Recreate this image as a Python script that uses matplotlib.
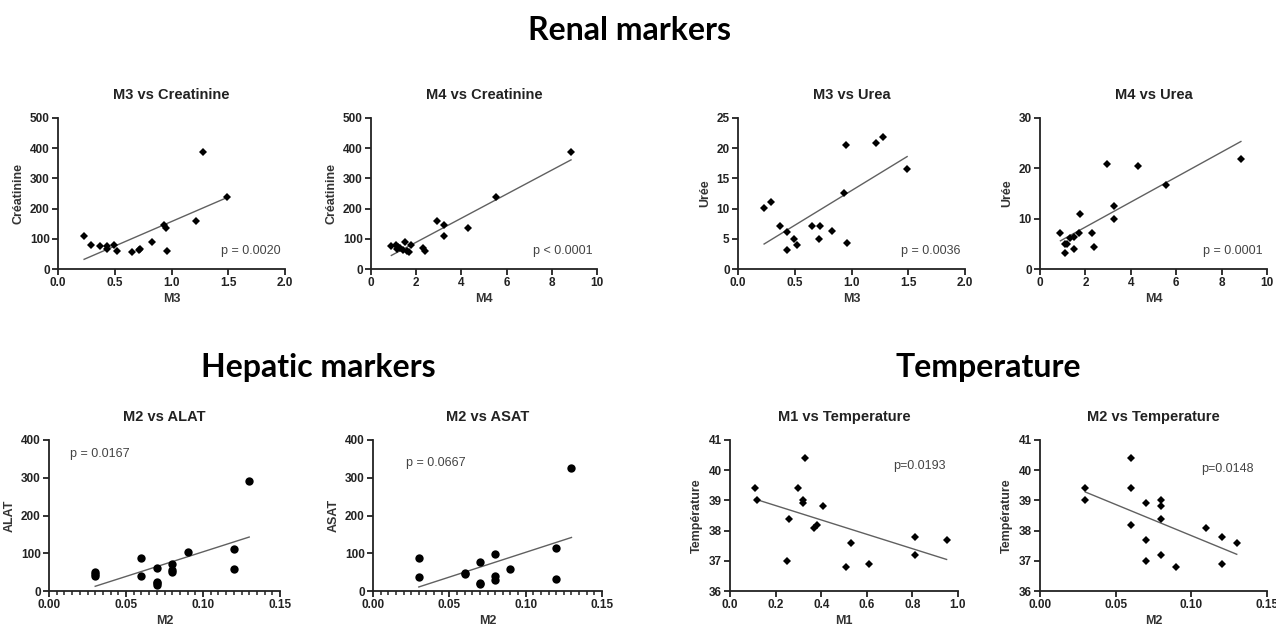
import numpy as np
import matplotlib
matplotlib.use("Agg")
import matplotlib.pyplot as plt
from matplotlib.ticker import MultipleLocator, FuncFormatter

# ---------------- data ----------------
m3 = [0.23, 0.29, 0.37, 0.43, 0.43, 0.49, 0.52, 0.65, 0.71, 0.72, 0.83, 0.93, 0.95, 0.96, 1.22, 1.28, 1.49]
creat_m3 = [110, 80, 75, 75, 65, 78, 60, 55, 62, 65, 90, 145, 135, 60, 160, 388, 237]
urea_m3 = [10.1, 11.1, 7.2, 6.1, 3.2, 5.0, 4.0, 7.2, 4.9, 7.2, 6.3, 12.6, 20.5, 4.3, 20.9, 21.8, 16.6]

m4_cr = [0.9, 1.1, 1.15, 1.2, 1.3, 1.4, 1.5, 1.6, 1.7, 1.75, 2.3, 2.4, 2.9, 3.25, 3.25, 4.3, 5.55, 8.85]
creat_m4 = [75, 78, 65, 72, 70, 62, 90, 60, 55, 80, 68, 60, 160, 145, 110, 135, 237, 388]

m4_ur = [0.9, 1.1, 1.1, 1.2, 1.3, 1.5, 1.5, 1.7, 1.75, 2.3, 2.4, 2.95, 3.25, 3.25, 4.3, 5.55, 8.85]
urea_m4 = [7.2, 3.2, 4.9, 5.0, 6.1, 6.3, 4.0, 7.2, 11.0, 7.2, 4.3, 20.8, 12.6, 10.0, 20.5, 16.6, 21.8]

m2_alat = [0.03, 0.03, 0.03, 0.06, 0.06, 0.07, 0.07, 0.07, 0.07, 0.08, 0.08, 0.08, 0.09, 0.12, 0.12, 0.13]
alat = [50, 45, 40, 87, 40, 62, 25, 20, 15, 72, 55, 50, 103, 112, 58, 292]

m2_asat = [0.03, 0.03, 0.06, 0.06, 0.07, 0.07, 0.07, 0.08, 0.08, 0.08, 0.09, 0.12, 0.12, 0.13]
asat = [88, 38, 48, 45, 77, 20, 18, 98, 40, 28, 58, 113, 32, 325]

m1 = [0.11, 0.12, 0.25, 0.26, 0.30, 0.32, 0.32, 0.33, 0.37, 0.38, 0.41, 0.51, 0.53, 0.61, 0.81, 0.81, 0.95]
temp_m1 = [39.4, 39.0, 37.0, 38.4, 39.4, 39.0, 38.9, 40.4, 38.1, 38.2, 38.8, 36.8, 37.6, 36.9, 37.8, 37.2, 37.7]

m2_t = [0.03, 0.03, 0.06, 0.06, 0.06, 0.07, 0.07, 0.07, 0.08, 0.08, 0.08, 0.08, 0.09, 0.11, 0.12, 0.12, 0.13]
temp_m2 = [39.4, 39.0, 40.4, 39.4, 38.2, 38.9, 37.7, 37.0, 39.0, 38.8, 38.4, 37.2, 36.8, 38.1, 37.8, 36.9, 37.6]

titles = ["M3 vs Creatinine", "M4 vs Creatinine", "M3 vs Urea", "M4 vs Urea",
          "M2 vs ALAT", "M2 vs ASAT", "M1 vs Temperature", "M2 vs Temperature"]
xlabels = ["M3", "M4", "M3", "M4", "M2", "M2", "M1", "M2"]
ylabels = ["Créatinine", "Créatinine", "Urée", "Urée", "ALAT", "ASAT", "Température", "Température"]
pvals = ["p = 0.0020", "p < 0.0001", "p = 0.0036", "p = 0.0001",
         "p = 0.0167", "p = 0.0667", "p=0.0193", "p=0.0148"]
section_titles = ["Renal markers", "Hepatic markers", "Temperature"]

# ---------------- layout ----------------
W, H = 1276, 630
fig = plt.figure(figsize=(W / 100, H / 100), dpi=100)
plt.rcParams['font.family'] = ['Liberation Sans', 'DejaVu Sans']

def px_axes(l, r, t, b):
    return fig.add_axes([l / W, 1 - b / H, (r - l) / W, (b - t) / H])

boxes = [(58, 285, 118, 269), (371, 597, 118, 269), (738, 965, 118, 269), (1040, 1267, 118, 269),
         (49, 280, 440, 591), (373, 602, 440, 591), (730, 958, 440, 591), (1040, 1267, 440, 591)]

series = [(m3, creat_m3), (m4_cr, creat_m4), (m3, urea_m3), (m4_ur, urea_m4),
          (m2_alat, alat), (m2_asat, asat), (m1, temp_m1), (m2_t, temp_m2)]

xlims = [(0, 2.0), (0, 10), (0, 2.0), (0, 10), (0, 0.15), (0, 0.15), (0, 1.0), (0, 0.15)]
ylims = [(0, 500), (0, 500), (0, 25), (0, 30), (0, 400), (0, 400), (36, 41), (36, 41)]
xmaj = [0.5, 2, 0.5, 2, 0.05, 0.05, 0.2, 0.05]
ymaj = [100, 100, 5, 10, 100, 100, 1, 1]
xfmt = ["{:.1f}", "{:.0f}", "{:.1f}", "{:.0f}", "{:.2f}", "{:.2f}", "{:.1f}", "{:.2f}"]
minor_x = [None, None, None, None, 0.005, 0.005, None, None]
markers = ["D", "D", "D", "D", "o", "o", "D", "D"]
msizes = [4.0, 4.0, 4.0, 4.0, 6.0, 6.0, 4.0, 4.0]
ptext = [(0.98, 0.12, "right"), (0.98, 0.12, "right"), (0.98, 0.12, "right"), (0.98, 0.12, "right"),
         (0.09, 0.91, "left"), (0.145, 0.85, "left"), (0.715, 0.83, "left"), (0.71, 0.81, "left")]

for i in range(8):
    ax = px_axes(*boxes[i])
    x = np.array(series[i][0], float)
    y = np.array(series[i][1], float)
    ax.plot(x, y, linestyle="none", marker=markers[i], ms=msizes[i], color="black",
            markeredgewidth=0, clip_on=False, zorder=3)
    k, b0 = np.polyfit(x, y, 1)
    xs = np.array([x.min(), x.max()])
    ax.plot(xs, k * xs + b0, color="#606060", lw=1.0, zorder=2)
    ax.set_xlim(*xlims[i])
    ax.set_ylim(*ylims[i])
    ax.xaxis.set_major_locator(MultipleLocator(xmaj[i]))
    ax.yaxis.set_major_locator(MultipleLocator(ymaj[i]))
    f = xfmt[i]
    ax.xaxis.set_major_formatter(FuncFormatter(lambda v, p, f=f: f.format(v)))
    if minor_x[i]:
        ax.xaxis.set_minor_locator(MultipleLocator(minor_x[i]))
        ax.tick_params(axis="x", which="minor", length=3, width=1.1, color="#222222")
    for s in ["top", "right"]:
        ax.spines[s].set_visible(False)
    for s in ["left", "bottom"]:
        ax.spines[s].set_linewidth(1.3)
        ax.spines[s].set_color("#222222")
    ax.tick_params(axis="both", which="major", length=4, width=1.3, color="#222222",
                   labelsize=8.5, pad=2, labelcolor="#222222")
    for lab in ax.get_xticklabels() + ax.get_yticklabels():
        lab.set_fontweight("bold")
    ax.set_title(titles[i], fontsize=10.5, fontweight="bold", pad=14, color="#222222")
    ax.set_xlabel(xlabels[i], fontsize=9, fontweight="bold", labelpad=3, color="#333333")
    ax.set_ylabel(ylabels[i], fontsize=9, fontweight="bold", labelpad=4, color="#333333")
    px, py, ha = ptext[i]
    ax.text(px, py, pvals[i], transform=ax.transAxes, ha=ha, va="center",
            fontsize=9, color="#444444")

for (cx, cy), t in zip([(630, 30), (318, 367), (988, 367)], section_titles):
    fig.text(cx / W, 1 - cy / H, t, ha="center", va="center",
             fontsize=23, fontweight="bold", family=["Lato", "DejaVu Sans"])

fig.savefig("out.png", dpi=100)
